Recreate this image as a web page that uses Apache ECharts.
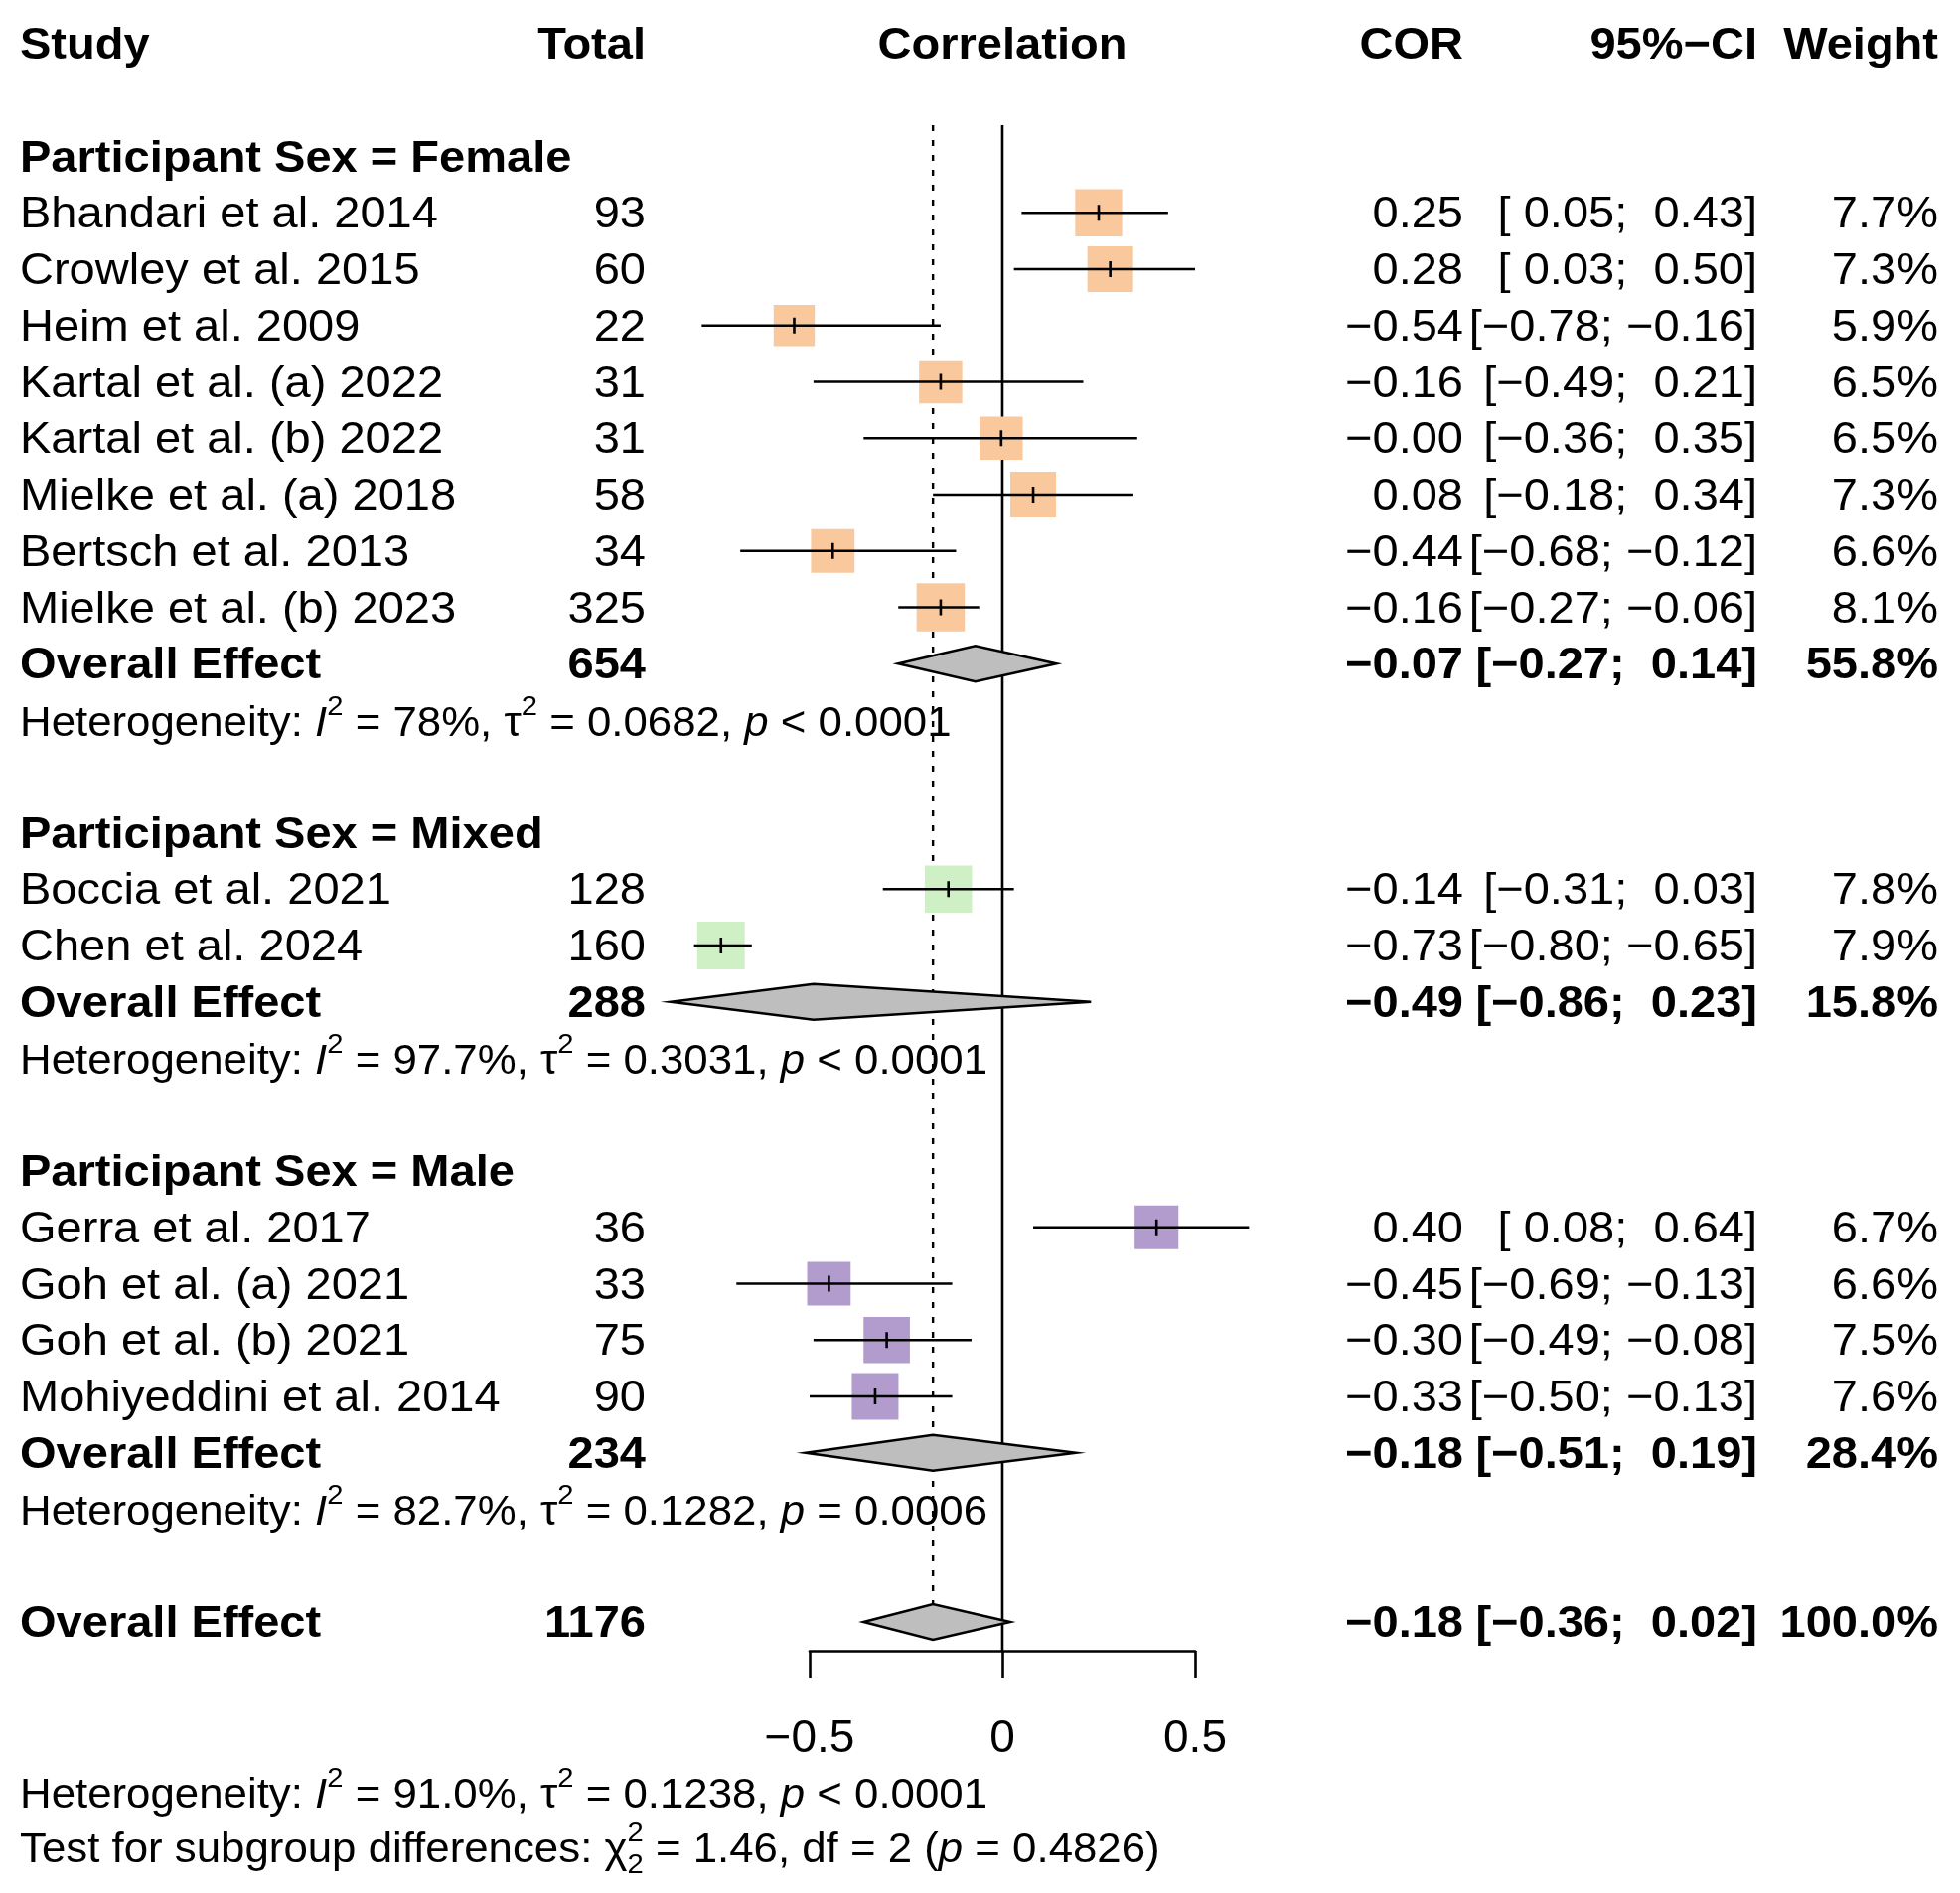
<!DOCTYPE html>
<html><head><meta charset="utf-8">
<script src="https://cdn.jsdelivr.net/npm/echarts@6/dist/echarts.min.js"></script>
<style>html,body{margin:0;padding:0;background:#fff}#chart{width:1973px;height:1906px}</style>
</head><body><div id="chart"></div>
<script>
// ---------------- DATA ----------------
const groupNames = ["Female", "Mixed", "Male"];
const groupColors = ["#F9C89C", "#CEF0C4", "#B29CCD"];

const studyNames = ["Bhandari et al. 2014", "Crowley et al. 2015", "Heim et al. 2009", "Kartal et al. (a) 2022",
  "Kartal et al. (b) 2022", "Mielke et al. (a) 2018", "Bertsch et al. 2013", "Mielke et al. (b) 2023",
  "Boccia et al. 2021", "Chen et al. 2024",
  "Gerra et al. 2017", "Goh et al. (a) 2021", "Goh et al. (b) 2021", "Mohiyeddini et al. 2014"];
const studyGroup = [0, 0, 0, 0, 0, 0, 0, 0, 1, 1, 2, 2, 2, 2];
const studyTotals = [93, 60, 22, 31, 31, 58, 34, 325, 128, 160, 36, 33, 75, 90];
const studyCor = [0.25, 0.28, -0.54, -0.16, -0.003, 0.08, -0.44, -0.16, -0.14, -0.73, 0.40, -0.45, -0.30, -0.33];
const studyLower = [0.05, 0.03, -0.78, -0.49, -0.36, -0.18, -0.68, -0.27, -0.31, -0.80, 0.08, -0.69, -0.49, -0.50];
const studyUpper = [0.43, 0.50, -0.16, 0.21, 0.35, 0.34, -0.12, -0.06, 0.03, -0.65, 0.64, -0.13, -0.08, -0.13];
const studyWeight = [7.7, 7.3, 5.9, 6.5, 6.5, 7.3, 6.6, 8.1, 7.8, 7.9, 6.7, 6.6, 7.5, 7.6];

const groupTotals = [654, 288, 234];
const groupCor = [-0.07, -0.49, -0.18];
const groupLower = [-0.27, -0.86, -0.51];
const groupUpper = [0.14, 0.23, 0.19];
const groupWeight = [55.8, 15.8, 28.4];
const groupI2 = ["78%", "97.7%", "82.7%"];
const groupTau2 = ["0.0682", "0.3031", "0.1282"];
const groupP = ["< 0.0001", "< 0.0001", "= 0.0006"];

const overallTotal = 1176;
const overallCor = -0.18;
const overallLower = -0.36;
const overallUpper = 0.02;
const overallWeight = 100.0;
const overallI2 = "91.0%";
const overallTau2 = "0.1238";
const overallP = "< 0.0001";
const subgroupChi2 = "1.46";
const subgroupDf = "2";
const subgroupP = "0.4826";

const tickValues = [-0.5, 0, 0.5];
const headerLabels = ["Study", "Total", "Correlation", "COR", "95%\u2212CI", "Weight"];

// ---------------- LAYOUT ----------------
const W = 1973, H = 1906;
const ROW0_Y = 44, PITCH = 56.75;
const PLOT_TOP = 126, AXIS_Y = 1662;
const X_LEFT = 815, X_RIGHT = 1203;
const yMin = (PLOT_TOP - ROW0_Y) / PITCH;
const yMax = (AXIS_Y - ROW0_Y) / PITCH;
const FONT = '"Liberation Sans", Arial, Helvetica, sans-serif';
const FS = 45, SX = 1.045;          // main text
const FS_H = 42, SX_H = 1.043;      // heterogeneity lines
const FS_SUP = 28;
const X_STUDY = 20, X_TOTAL = 650, X_COR = 1473, X_CI = 1769, X_W = 1951;
const SQ_MAX = 48.5, DIAM_H = 18, LW = 2.6;
const maxW = Math.max.apply(null, studyWeight);

const MINUS = "\u2212";
function fmt2(v) { return (v < 0 ? MINUS : "") + Math.abs(v).toFixed(2); }
function pad(v) { return v < 0 ? fmt2(v) : " " + fmt2(v); }
function fmtCI(lo, hi) { return "[" + pad(lo) + "; " + pad(hi) + "]"; }
function fmtW(w) { return w.toFixed(1) + "%"; }

// Build rows
const textRows = [];
const studyRows = [];
const diamonds = [];
let r = 0;
textRows.push({ row: r, kind: "header" });
r = 2;
for (let g = 0; g < groupNames.length; g++) {
  textRows.push({ row: r, kind: "group", text: "Participant Sex = " + groupNames[g] });
  r++;
  for (let i = 0; i < studyNames.length; i++) {
    if (studyGroup[i] !== g) continue;
    textRows.push({ row: r, kind: "study", name: studyNames[i], total: String(studyTotals[i]),
      cor: fmt2(studyCor[i]), ci: fmtCI(studyLower[i], studyUpper[i]), w: fmtW(studyWeight[i]) });
    studyRows.push([studyCor[i], r, studyLower[i], studyUpper[i], studyWeight[i], g]);
    r++;
  }
  textRows.push({ row: r, kind: "overall", name: "Overall Effect", total: String(groupTotals[g]),
    cor: fmt2(groupCor[g]), ci: fmtCI(groupLower[g], groupUpper[g]), w: fmtW(groupWeight[g]) });
  diamonds.push([groupCor[g], r, groupLower[g], groupUpper[g]]);
  r++;
  textRows.push({ row: r + 0.03, kind: "het", i2: groupI2[g], tau2: groupTau2[g], p: groupP[g] });
  r++;
  r++;
}
const overallRow = r;
textRows.push({ row: r, kind: "overall", name: "Overall Effect", total: String(overallTotal),
  cor: fmt2(overallCor), ci: fmtCI(overallLower, overallUpper), w: fmtW(overallWeight) });
diamonds.push([overallCor, r, overallLower, overallUpper]);
textRows.push({ row: r + 3.05, kind: "het", i2: overallI2, tau2: overallTau2, p: overallP });
textRows.push({ row: r + 4.02, kind: "test" });

// ---------------- RENDER HELPERS ----------------
function txt(text, x, y, align, bold, size, sx) {
  size = size || FS;
  return { type: "text", x: x, y: y + 0.06 * size, scaleX: sx || SX, scaleY: 1,
    style: { text: text, x: 0, y: 0, align: align, verticalAlign: "middle",
      fontFamily: FONT, fontSize: size, fontWeight: bold ? "bold" : "normal", fill: "#000" } };
}
const richStyles = {
  n: { fontFamily: FONT, fontSize: FS_H, lineHeight: 64, fill: "#000" },
  i: { fontFamily: FONT, fontSize: FS_H, fontStyle: "italic", lineHeight: 64, fill: "#000" },
  s: { fontFamily: FONT, fontSize: FS_SUP, lineHeight: 30, height: 30, verticalAlign: "top", fill: "#000" }
};
function richTxt(text, x, y) {
  return { type: "text", x: x, y: y + 0.06 * FS_H, scaleX: SX_H, scaleY: 1,
    style: { text: text, x: 0, y: 0, align: "left", verticalAlign: "middle", rich: richStyles } };
}
const measureCtx = document.createElement("canvas").getContext("2d");
function measure(str, size) {
  measureCtx.font = "normal normal " + size + "px " + FONT;
  return measureCtx.measureText(str).width;
}

function renderText(params, api) {
  const t = textRows[params.dataIndex];
  const p = api.coord([0, t.row]);
  const y = p[1], x0 = p[0];
  const ch = [];
  if (t.kind === "header") {
    ch.push(txt(headerLabels[0], X_STUDY, y, "left", true));
    ch.push(txt(headerLabels[1], X_TOTAL, y, "right", true));
    ch.push(txt(headerLabels[2], x0, y, "center", true));
    ch.push(txt(headerLabels[3], X_COR, y, "right", true));
    ch.push(txt(headerLabels[4], X_CI, y, "right", true));
    ch.push(txt(headerLabels[5], X_W, y, "right", true));
  } else if (t.kind === "group") {
    ch.push(txt(t.text, X_STUDY, y, "left", true));
  } else if (t.kind === "study" || t.kind === "overall") {
    const b = t.kind === "overall";
    ch.push(txt(t.name, X_STUDY, y, "left", b));
    ch.push(txt(t.total, X_TOTAL, y, "right", b));
    ch.push(txt(t.cor, X_COR, y, "right", b));
    ch.push(txt(t.ci, X_CI, y, "right", b));
    ch.push(txt(t.w, X_W, y, "right", b));
  } else if (t.kind === "het") {
    const s = "{n|Heterogeneity: }{i|I}{s|2}{n| = " + t.i2 + ", \u03C4}{s|2}{n| = " + t.tau2 + ", }{i|p}{n| " + t.p + "}";
    ch.push(richTxt(s, X_STUDY, y));
  } else if (t.kind === "test") {
    const pre = "Test for subgroup differences: \u03C7";
    const s = "{n|" + pre + "}{s|2}{n| = " + subgroupChi2 + ", df = " + subgroupDf + " (}{i|p}{n| = " + subgroupP + ")}";
    ch.push(richTxt(s, X_STUDY, y));
    const xs = X_STUDY + measure(pre, FS_H) * SX_H;
    ch.push(txt(subgroupDf, xs, y + 15, "left", false, FS_SUP, SX_H));
  }
  return { type: "group", children: ch };
}

function renderStudy(params, api) {
  const row = api.value(1);
  const c = api.coord([api.value(0), row]);
  const lo = api.coord([api.value(2), row]);
  const hi = api.coord([api.value(3), row]);
  const s = SQ_MAX * Math.sqrt(api.value(4) / maxW);
  const color = groupColors[api.value(5)];
  return { type: "group", children: [
    { type: "rect", shape: { x: c[0] - s / 2, y: c[1] - s / 2, width: s, height: s }, style: { fill: color } },
    { type: "line", shape: { x1: lo[0], y1: c[1], x2: hi[0], y2: c[1] }, style: { stroke: "#000", lineWidth: LW } },
    { type: "line", shape: { x1: c[0], y1: c[1] - 8, x2: c[0], y2: c[1] + 8 }, style: { stroke: "#000", lineWidth: LW } }
  ] };
}

function renderDiamond(params, api) {
  const row = api.value(1);
  const c = api.coord([api.value(0), row]);
  const lo = api.coord([api.value(2), row]);
  const hi = api.coord([api.value(3), row]);
  return { type: "polygon", shape: { points: [[lo[0], c[1]], [c[0], c[1] - DIAM_H], [hi[0], c[1]], [c[0], c[1] + DIAM_H]] },
    style: { fill: "#BEBEBE", stroke: "#000", lineWidth: LW, lineJoin: "miter" } };
}

function renderRef(params, api) {
  const top0 = api.coord([0, yMin]);
  const bot0 = api.coord([0, yMax]);
  const topO = api.coord([overallCor, yMin]);
  const botO = api.coord([overallCor, overallRow]);
  return { type: "group", children: [
    { type: "line", shape: { x1: topO[0], y1: topO[1], x2: topO[0], y2: botO[1] - DIAM_H },
      style: { stroke: "#000", lineWidth: 2.4, lineDash: [6, 9] } },
    { type: "line", shape: { x1: top0[0], y1: top0[1], x2: bot0[0], y2: bot0[1] }, style: { stroke: "#000", lineWidth: LW } }
  ] };
}

// ---------------- CHART ----------------
const chart = echarts.init(document.getElementById("chart"), null, { renderer: "canvas", width: W, height: H });
chart.setOption({
  backgroundColor: "#fff",
  animation: false,
  grid: { left: X_LEFT, right: W - X_RIGHT, top: PLOT_TOP, bottom: H - AXIS_Y, containLabel: false },
  xAxis: {
    type: "value", min: tickValues[0], max: tickValues[tickValues.length - 1], interval: 0.5,
    splitLine: { show: false },
    axisLine: { show: true, onZero: false, lineStyle: { color: "#000", width: LW } },
    axisTick: { show: true, length: 28, lineStyle: { color: "#000", width: LW } },
    axisLabel: { margin: 66, color: "#000", fontFamily: FONT, fontSize: 46, lineHeight: 46,
      formatter: function (v) { return v === 0 ? "0" : (v < 0 ? MINUS : "") + Math.abs(v); } }
  },
  yAxis: { type: "value", inverse: true, min: yMin, max: yMax, show: false },
  series: [
    { type: "custom", renderItem: renderRef, data: [[0, 0]], clip: false, silent: true, z: 1 },
    { type: "custom", renderItem: renderStudy, data: studyRows, clip: false, silent: true, z: 2 },
    { type: "custom", renderItem: renderDiamond, data: diamonds, clip: false, silent: true, z: 3 },
    { type: "custom", renderItem: renderText, data: textRows.map(t => [0, t.row]), clip: false, silent: true, z: 4 }
  ]
});
</script></body></html>
